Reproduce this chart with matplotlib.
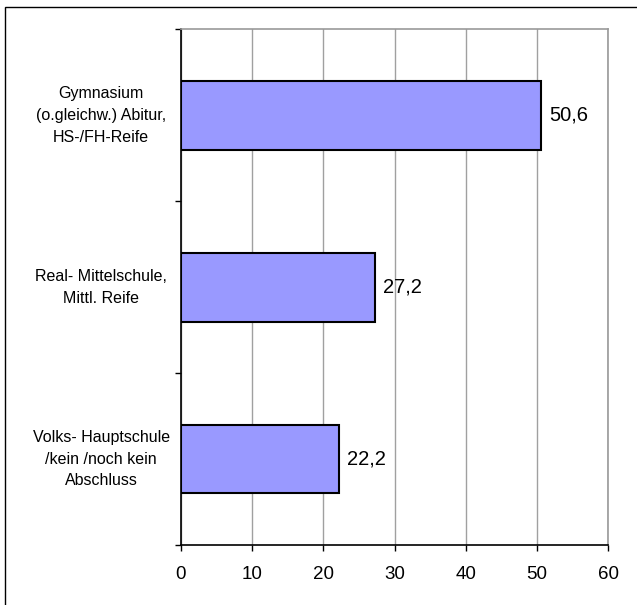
import matplotlib.pyplot as plt
from matplotlib.patches import Rectangle
from matplotlib.transforms import blended_transform_factory

plt.rcParams['font.family'] = ['Liberation Sans', 'DejaVu Sans']

# bottom to top
categories = ["Volks- Hauptschule\n/kein /noch kein\nAbschluss",
              "Real- Mittelschule,\nMittl. Reife",
              "Gymnasium\n(o.gleichw.) Abitur,\nHS-/FH-Reife"]
values = [22.2, 27.2, 50.6]
value_labels = ["22,2", "27,2", "50,6"]
xticks = [0, 10, 20, 30, 40, 50, 60]

fig = plt.figure(figsize=(6.37, 6.05), dpi=100)
ax = fig.add_axes([0.2837, 0.0992, 0.6713, 0.8524])

ypos = range(len(values))
ax.barh(ypos, values, height=0.4, color='#9999FF', edgecolor='black',
        linewidth=1.5, zorder=3)

ax.set_xlim(0, 60)
ax.set_ylim(-0.5, 2.5)
ax.set_xticks(xticks)
ax.set_xticklabels([str(t) for t in xticks], fontsize=13.5)
ax.tick_params(axis='x', direction='out', length=4, width=1, pad=11, color='black')
ax.set_yticks([-0.5, 0.5, 1.5, 2.5])
ax.set_yticklabels([])
ax.tick_params(axis='y', direction='out', length=4, width=1, color='black')

ax.grid(axis='x', color='#a0a0a0', linewidth=1, zorder=0)
ax.set_axisbelow(True)
for s in ['top', 'right']:
    ax.spines[s].set_color('#999999')
    ax.spines[s].set_linewidth(1.2)
for s in ['left', 'bottom']:
    ax.spines[s].set_color('black')
    ax.spines[s].set_linewidth(1.2)

trans = blended_transform_factory(ax.transAxes, ax.transData)
for y, cat in zip(ypos, categories):
    ax.text(-0.186, y, cat, transform=trans, ha='center', va='center',
            multialignment='center', fontsize=11.5, linespacing=1.57)

for y, v, lab in zip(ypos, values, value_labels):
    ax.annotate(lab, (v, y), xytext=(6, 0), textcoords='offset points',
                ha='left', va='center', fontsize=14.5)

fig.patches.append(Rectangle((5 / 637, -0.1), 2, 1.1 - 7 / 605,
                             transform=fig.transFigure, fill=False,
                             edgecolor='black', linewidth=1))

fig.savefig('out.png', dpi=100)
